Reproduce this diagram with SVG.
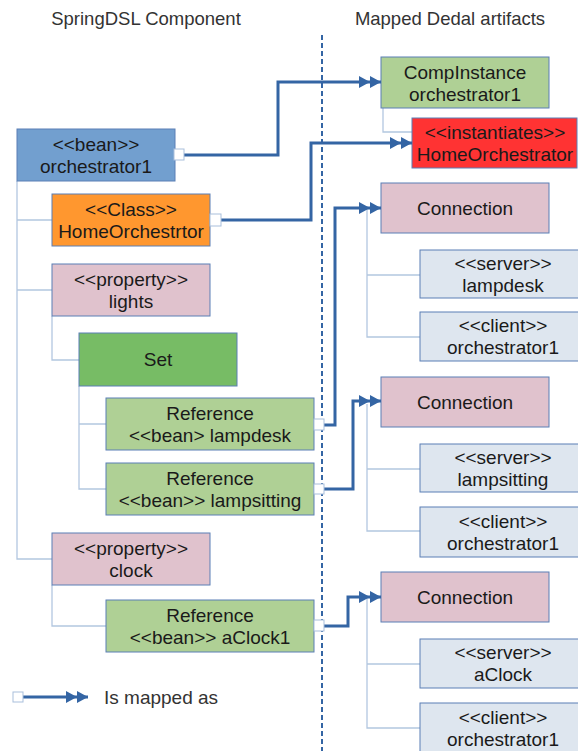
<svg xmlns="http://www.w3.org/2000/svg" width="578" height="751" viewBox="0 0 578 751">
  <style>
    text { font-family: "Liberation Sans", Arial, sans-serif; font-size: 19px; fill: #1a1a1a; text-anchor: middle; }
    .title { fill: #333333; font-size: 18.5px; }
    .legend { fill: #333333; text-anchor: start; }
    .box { stroke: #5b7fb5; stroke-width: 1; }
    .bean { fill: #729fcf; }
    .cls { fill: #ff972f; }
    .prop { fill: #e0c2cd; }
    .set { fill: #77bc65; }
    .ref { fill: #afd095; }
    .inst { fill: #ff3333; }
    .port { fill: #dee6ef; }
    .tree { fill: none; stroke: #b3c7e0; stroke-width: 1.3; }
    .map { fill: none; stroke: #3465a4; stroke-width: 3; marker-end: url(#dbl); }
    .stub { fill: #ffffff; stroke: #a9bfdc; stroke-width: 1; }
    .divider { stroke: #3465a4; stroke-width: 2; stroke-dasharray: 5 3; }
  </style>
  <defs>
    <marker id="dbl" markerUnits="userSpaceOnUse" markerWidth="23" markerHeight="13" refX="22" refY="6.5" orient="auto">
      <path d="M0,0.5 L11,6.5 L0,12.5 Z M11,0.5 L22,6.5 L11,12.5 Z" fill="#3465a4"/>
    </marker>
  </defs>

  <rect width="578" height="751" fill="#ffffff"/>

  <text class="title" x="146" y="25">SpringDSL Component</text>
  <text class="title" x="450" y="25">Mapped Dedal artifacts</text>
  <line class="divider" x1="322" y1="35" x2="322" y2="751"/>

  <!-- containment tree lines -->
  <g id="tree">
    <path class="tree" d="M17,181 V559 H52 M17,220 H52 M17,290 H52"/>
    <path class="tree" d="M52,316 V360 H79"/>
    <path class="tree" d="M79,386 V489 H106 M79,424 H106"/>
    <path class="tree" d="M52,585 V626 H106"/>
    <path class="tree" d="M383,108 V132 H412"/>
    <path class="tree" d="M367,210 V337 H420 M367,275 H420"/>
    <path class="tree" d="M367,404 V531 H420 M367,469 H420"/>
    <path class="tree" d="M367,599 V728 H420 M367,664 H420"/>
  </g>

  <!-- left side: SpringDSL elements -->
  <g id="bean-orchestrator1">
    <rect class="box bean" x="17" y="129" width="158" height="52"/>
    <text x="96" y="151">&lt;&lt;bean&gt;&gt;</text>
    <text x="96" y="173">orchestrator1</text>
  </g>
  <g id="class-homeorchestrtor">
    <rect class="box cls" x="52" y="194" width="158" height="52"/>
    <text x="131" y="216">&lt;&lt;Class&gt;&gt;</text>
    <text x="131" y="238">HomeOrchestrtor</text>
  </g>
  <g id="property-lights">
    <rect class="box prop" x="52" y="264" width="158" height="52"/>
    <text x="131" y="286">&lt;&lt;property&gt;&gt;</text>
    <text x="131" y="308">lights</text>
  </g>
  <g id="set">
    <rect class="box set" x="79" y="333" width="158" height="53"/>
    <text x="158" y="366">Set</text>
  </g>
  <g id="ref-lampdesk">
    <rect class="box ref" x="106" y="398" width="208" height="52"/>
    <text x="210" y="420">Reference</text>
    <text x="210" y="442">&lt;&lt;bean&gt; lampdesk</text>
  </g>
  <g id="ref-lampsitting">
    <rect class="box ref" x="106" y="463" width="208" height="52"/>
    <text x="210" y="485">Reference</text>
    <text x="210" y="507">&lt;&lt;bean&gt;&gt; lampsitting</text>
  </g>
  <g id="property-clock">
    <rect class="box prop" x="52" y="533" width="158" height="52"/>
    <text x="131" y="555">&lt;&lt;property&gt;&gt;</text>
    <text x="131" y="577">clock</text>
  </g>
  <g id="ref-aclock1">
    <rect class="box ref" x="106" y="600" width="208" height="52"/>
    <text x="210" y="622">Reference</text>
    <text x="210" y="644">&lt;&lt;bean&gt;&gt; aClock1</text>
  </g>

  <!-- right side: Dedal artifacts -->
  <g id="compinstance">
    <rect class="box ref" x="381" y="57" width="168" height="51"/>
    <text x="465" y="79">CompInstance</text>
    <text x="465" y="101">orchestrator1</text>
  </g>
  <g id="instantiates">
    <rect class="box inst" x="412" y="118" width="165" height="50"/>
    <text x="495" y="139">&lt;&lt;instantiates&gt;&gt;</text>
    <text x="495" y="161">HomeOrchestrator</text>
  </g>

  <g id="connection-1">
    <rect class="box prop" x="381" y="183" width="168" height="50"/>
    <text x="465" y="215">Connection</text>
  </g>
  <g id="server-lampdesk">
    <rect class="box port" x="420" y="250" width="166" height="48"/>
    <text x="503" y="270">&lt;&lt;server&gt;&gt;</text>
    <text x="503" y="292">lampdesk</text>
  </g>
  <g id="client-1">
    <rect class="box port" x="420" y="312" width="166" height="49"/>
    <text x="503" y="332">&lt;&lt;client&gt;&gt;</text>
    <text x="503" y="354">orchestrator1</text>
  </g>

  <g id="connection-2">
    <rect class="box prop" x="381" y="377" width="168" height="50"/>
    <text x="465" y="409">Connection</text>
  </g>
  <g id="server-lampsitting">
    <rect class="box port" x="420" y="444" width="166" height="48"/>
    <text x="503" y="464">&lt;&lt;server&gt;&gt;</text>
    <text x="503" y="486">lampsitting</text>
  </g>
  <g id="client-2">
    <rect class="box port" x="420" y="507" width="166" height="50"/>
    <text x="503" y="528">&lt;&lt;client&gt;&gt;</text>
    <text x="503" y="550">orchestrator1</text>
  </g>

  <g id="connection-3">
    <rect class="box prop" x="381" y="572" width="168" height="50"/>
    <text x="465" y="604">Connection</text>
  </g>
  <g id="server-aclock">
    <rect class="box port" x="420" y="639" width="166" height="49"/>
    <text x="503" y="659">&lt;&lt;server&gt;&gt;</text>
    <text x="503" y="681">aClock</text>
  </g>
  <g id="client-3">
    <rect class="box port" x="420" y="703" width="166" height="50"/>
    <text x="503" y="724">&lt;&lt;client&gt;&gt;</text>
    <text x="503" y="746">orchestrator1</text>
  </g>

  <!-- "is mapped as" connectors -->
  <g id="mappings">
    <path class="map" d="M184,155 H278 V82 H381"/>
    <path class="map" d="M221,220 H311 V143 H412"/>
    <path class="map" d="M324,425 H335 V208 H381"/>
    <path class="map" d="M324,489 H353 V401 H381"/>
    <path class="map" d="M324,626 H348 V597 H381"/>
    <rect class="stub" x="174" y="149" width="10" height="11"/>
    <rect class="stub" x="210" y="214" width="11" height="12"/>
    <rect class="stub" x="314" y="419" width="10" height="11"/>
    <rect class="stub" x="314" y="484" width="10" height="10"/>
    <rect class="stub" x="314" y="620" width="10" height="11"/>
  </g>

  <!-- legend -->
  <g id="legend">
    <path class="map" d="M23,697 H88"/>
    <rect class="stub" x="13" y="692" width="10" height="10"/>
    <text class="legend" x="104" y="704">Is mapped as</text>
  </g>
</svg>
